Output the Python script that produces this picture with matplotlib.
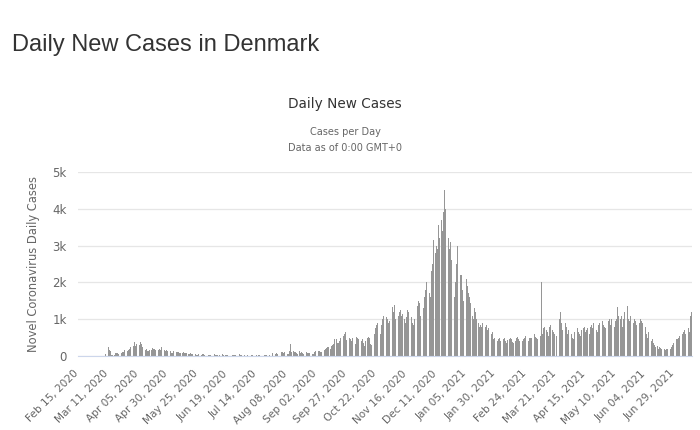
import numpy as np
import pandas as pd
import matplotlib
matplotlib.use("Agg")
import matplotlib.pyplot as plt
import matplotlib.transforms as mtransforms

# daily new cases, Feb 15 2020 .. Jul 13 2021
feb20 = [0,0,0,0,0,0,0,0,0,0,0,0,1,0,2]
mar20 = [1,1,1,6,5,10,8,3, 55,172,252,
         160,127,37,37,34,79,80,95,69,
         100,80,100,111,170,140,150,160,200,250,270]
apr20 = [283,371,279,331,292,312,390,330,233,184,
         177,180,143,130,157,170,220,178,187,164,
         164,158,196,165,236,152,160,140,153,149]
may20 = [140,130,90,80,150,130,120,110,100,90,
         70,80,120,90,80,70,60,50,70,60,
         60,50,55,40,30,50,45,40,60,45,30]
jun20 = [30,0,40,35,20,0,0,45,25,30,
         35,20,0,0,50,25,20,30,20,0,
         0,40,35,25,30,15,0,0,45,20]
jul20 = [15,10,20,0,0,25,15,10,20,30,
         0,0,25,10,15,20,12,0,0,30,
         25,20,40,35,0,0,70,45,60,80,50]
aug20 = [0,0,120,100,90,110,95,60,50,130,
         330,120,150,110,105,70,60,130,95,110,
         80,60,50,100,70,90,70,80,60,50,120]
sep20 = [130,110,150,130,120,100,140,170,200,230,
         240,250,180,270,300,340,450,460,360,350,
         400,480,350,540,600,660,430,390,500,450]
oct20 = [420,500,390,330,510,480,450,380,420,470,
         350,280,400,500,520,480,330,310,460,600,
         760,830,900,700,600,850,1000,1100,900,1050,1000]
nov20 = [900,950,1100,1340,1200,1400,1000,800,1100,1200,
         1250,1100,1150,1000,900,1050,1250,1200,1280,1050,
         900,850,1000,1200,1350,1500,1450,1100,1000,1300]
dec20 = [1600,1800,2000,2100,1700,1600,2300,2500,3150,2800,
         3000,2900,3550,3200,3700,3400,3900,4500,4000,3300,
         3200,2900,3100,2600,2400,1600,2000,2500,3000,2300,2200]
jan21 = [2200,1800,1500,2200,2100,1900,1700,1600,1450,1100,
         1000,1300,1200,1000,900,800,850,800,900,820,
         780,850,700,750,800,600,650,450,480,420,400]
feb21 = [450,500,420,380,450,480,400,
         350,430,470,500,450,380,360,
         400,480,520,450,420,380,400,
         470,500,550,450,420,480,500]
mar21 = [500,550,600,520,480,450,500,550, 2000,
         600,750,800,700,650,550,800,850,700,650,600, 0,
         550,800,1000,1200,900,700,750,900,800,600]
apr21 = [700,550,600,500,450,650,700,750,650,600,
         550,700,750,800,650,700,750,600,800,850,
         750,900,800,700,650,850,900,800,950,850]
may21 = [800,750,900,950,1000,850,1000,900,800,950,
         1000,1330,1100,1000,1100,800,1000,1200,1000,1350,
         1000,950,1100,1050,900,1000,950,850,800,900,1000]
jun21 = [950,900,700,800,600,500,650,550,400,450,
         350,300,250,280,200,250,220,180,160,200,
         170,200,180,150,200,250,300,350,400,450]
jul21 = [450,500,550,450,600,650,700,600,700,750,650,1100,1200]

cases = (feb20 + mar20 + apr20 + may20 + jun20 + jul20 + aug20 + sep20 + oct20
         + nov20 + dec20 + jan21 + feb21 + mar21 + apr21 + may21 + jun21 + jul21)
dates = pd.date_range("2020-02-15", periods=len(cases), freq="D")
tick_step = 25
y_ticks = [0, 1000, 2000, 3000, 4000, 5000]
y_labels = ["0", "1k", "2k", "3k", "4k", "5k"]

fig = plt.figure(figsize=(7, 4.3), dpi=100)
ax = fig.add_axes([0.111, 0.172, 0.878, 0.428])

x = np.arange(len(cases))
ax.bar(x, cases, width=0.72, color="#969696", linewidth=0)

ax.set_xlim(-0.5, len(cases) - 0.5)
ax.set_ylim(0, 5000)
ax.set_yticks(y_ticks)
ax.set_yticklabels(y_labels, fontsize=8.5, color="#666666")
ax.grid(axis="y", color="#e6e6e6", linewidth=0.9)
ax.set_axisbelow(True)

ticks = x[::tick_step]
ax.set_xticks(ticks)
ax.set_xticklabels([d.strftime("%b %d, %Y") for d in dates[::tick_step]],
                   rotation=45, ha="right", rotation_mode="anchor",
                   fontsize=7.6, color="#666666")
ax.tick_params(axis="y", length=0, pad=8)
ax.tick_params(axis="x", length=0, pad=6)
shift = mtransforms.ScaledTranslation(-5 / 100, -4 / 100, fig.dpi_scale_trans)
for lbl in ax.get_xticklabels():
    lbl.set_transform(lbl.get_transform() + shift)

for s in ["top", "right", "left"]:
    ax.spines[s].set_visible(False)
ax.spines["bottom"].set_color("#ccd6eb")
ax.spines["bottom"].set_linewidth(0.8)

ax.set_ylabel("Novel Coronavirus Daily Cases", fontsize=8.3, color="#666666", labelpad=9)

fig.text(0.017, 0.895, "Daily New Cases in Denmark", fontsize=17,
         family="Liberation Sans", color="#333333", va="center")
fig.text(0.493, 0.758, "Daily New Cases", fontsize=9.8, color="#333333", ha="center", va="center")
fig.text(0.493, 0.693, "Cases per Day", fontsize=7, color="#666666", ha="center", va="center")
fig.text(0.493, 0.655, "Data as of 0:00 GMT+0", fontsize=7, color="#666666", ha="center", va="center")

fig.savefig("out.png", dpi=100, facecolor="white")
